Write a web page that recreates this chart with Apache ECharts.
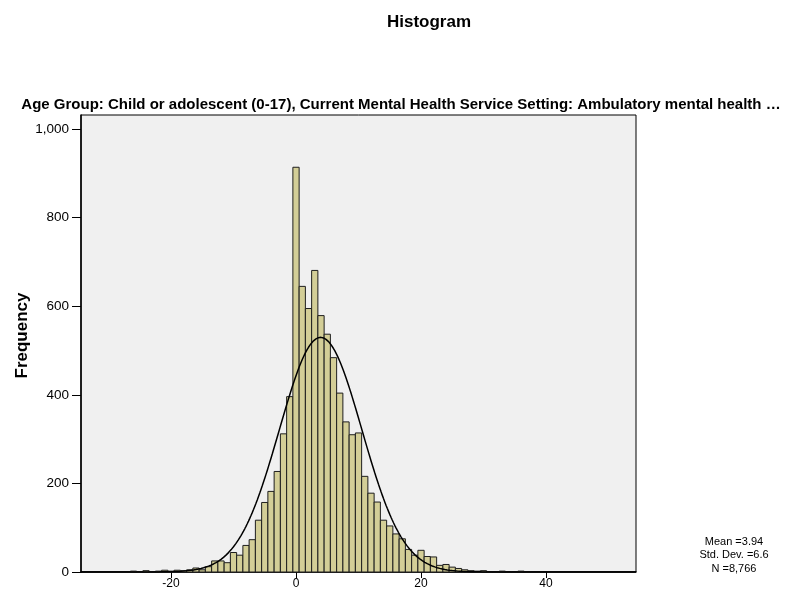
<!DOCTYPE html>
<html>
<head>
<meta charset="utf-8">
<script src="https://cdn.jsdelivr.net/npm/echarts@6/dist/echarts.min.js"></script>
<style>
  html, body { margin: 0; padding: 0; background: #fff; }
  #chart { width: 795px; height: 601px; }
</style>
</head>
<body>
<div id="chart"></div>
<script>
// Histogram bins (width 1, centred on each integer score) and their counts
const scoreBins = [
  -26, -25, -24, -23, -22, -21, -20, -19, -18, -17,
  -16, -15, -14, -13, -12, -11, -10, -9, -8, -7,
  -6, -5, -4, -3, -2, -1, 0, 1, 2, 3,
  4, 5, 6, 7, 8, 9, 10, 11, 12, 13,
  14, 15, 16, 17, 18, 19, 20, 21, 22, 23,
  24, 25, 26, 27, 28, 29, 30, 31, 32, 33,
  34, 35, 36, 37
];
const frequencies = [
  2, 1, 3, 1, 2, 4, 2, 4, 3, 5,
  9, 5, 12, 25, 25, 21, 44, 38, 60, 73,
  117, 157, 182, 227, 312, 396, 914, 645, 595, 681,
  579, 537, 484, 404, 339, 310, 314, 216, 178, 158,
  117, 104, 86, 75, 51, 38, 49, 35, 34, 15,
  17, 11, 8, 5, 3, 2, 3, 1, 1, 2,
  1, 1, 2, 1
];

// Summary statistics shown beside the plot; they also define the normal curve
const meanStat = 3.94;
const sdStat = 6.6;
const nStat = 8766;
const binWidth = 1;

const yTicks = [0, 200, 400, 600, 800, 1000];
const xTicks = [-20, 0, 20, 40];

const xMin = -34.4, xMax = 54.4;

// Normal density scaled to counts per bin
const curve = [];
for (let x = xMin; x <= xMax + 1e-9; x += 0.2) {
  const z = (x - meanStat) / sdStat;
  const y = nStat * binWidth / (sdStat * Math.sqrt(2 * Math.PI)) * Math.exp(-0.5 * z * z);
  curve.push([x, y]);
}

const fmt = v => v.toLocaleString('en-US');
const font = '"Liberation Sans", Arial, sans-serif';

const chart = echarts.init(document.getElementById('chart'), null, { renderer: 'canvas' });
chart.setOption({
  animation: false,
  backgroundColor: '#ffffff',
  title: [
    {
      text: 'Histogram', left: 424, top: 9, textAlign: 'center',
      textStyle: { fontFamily: font, fontSize: 17, fontWeight: 'bold', color: '#000' }
    },
    {
      text: 'Age Group: Child or adolescent (0-17), Current Mental Health Service Setting: Ambulatory mental health \u2026',
      left: 396, top: 92, textAlign: 'center',
      textStyle: { fontFamily: font, fontSize: 15, fontWeight: 'bold', color: '#000' }
    },
    {
      text: 'Mean =3.94\nStd. Dev. =6.6\nN =8,766',
      left: 729, top: 530, textAlign: 'center',
      textStyle: { fontFamily: font, fontSize: 11, fontWeight: 'normal', color: '#000', lineHeight: 13.5 }
    }
  ],
  grid: {
    left: 81, top: 115, width: 555, height: 457,
    outerBoundsMode: 'none', containLabel: false,
    show: true, backgroundColor: '#F0F0F0', borderColor: '#000', borderWidth: 1
  },
  xAxis: {
    type: 'value', min: xMin, max: xMax,
    splitLine: { show: false },
    axisLine: { show: true, onZero: false, lineStyle: { color: '#000', width: 1.5 } },
    axisTick: { show: true, length: 6, customValues: xTicks, lineStyle: { color: '#000', width: 1 } },
    axisLabel: { customValues: xTicks, color: '#000', fontFamily: font, fontSize: 12, margin: 6 }
  },
  yAxis: {
    type: 'value', min: 0, max: 1032,
    name: 'Frequency', nameLocation: 'middle', nameRotate: 90, nameGap: 50,
    nameMoveOverlap: false,
    nameTextStyle: { fontFamily: font, fontSize: 17, fontWeight: 'bold', color: '#000', padding: [0, 0, 0, 16] },
    splitLine: { show: false },
    axisLine: { show: true, onZero: false, lineStyle: { color: '#000', width: 1.5 } },
    axisTick: { show: true, length: 9, customValues: yTicks, lineStyle: { color: '#000', width: 1 } },
    axisLabel: { customValues: yTicks, formatter: v => fmt(v), color: '#000', fontFamily: font, fontSize: 13.5, margin: 12 }
  },
  series: [
    {
      type: 'custom',
      data: scoreBins.map((b, i) => [b, frequencies[i]]),
      encode: { x: 0, y: 1 },
      renderItem: (params, api) => {
        const c = api.value(0), f = api.value(1);
        const p0 = api.coord([c - binWidth / 2, 0]);
        const p1 = api.coord([c + binWidth / 2, f]);
        return {
          type: 'rect',
          shape: { x: p0[0], y: p1[1], width: p1[0] - p0[0], height: p0[1] - p1[1] },
          style: { fill: '#D3CE97', stroke: '#1e1e1e', lineWidth: 1 }
        };
      },
      z: 2
    },
    {
      type: 'line',
      data: curve,
      showSymbol: false,
      smooth: false,
      lineStyle: { color: '#000', width: 1.5 },
      z: 3
    }
  ]
});
</script>
</body>
</html>
